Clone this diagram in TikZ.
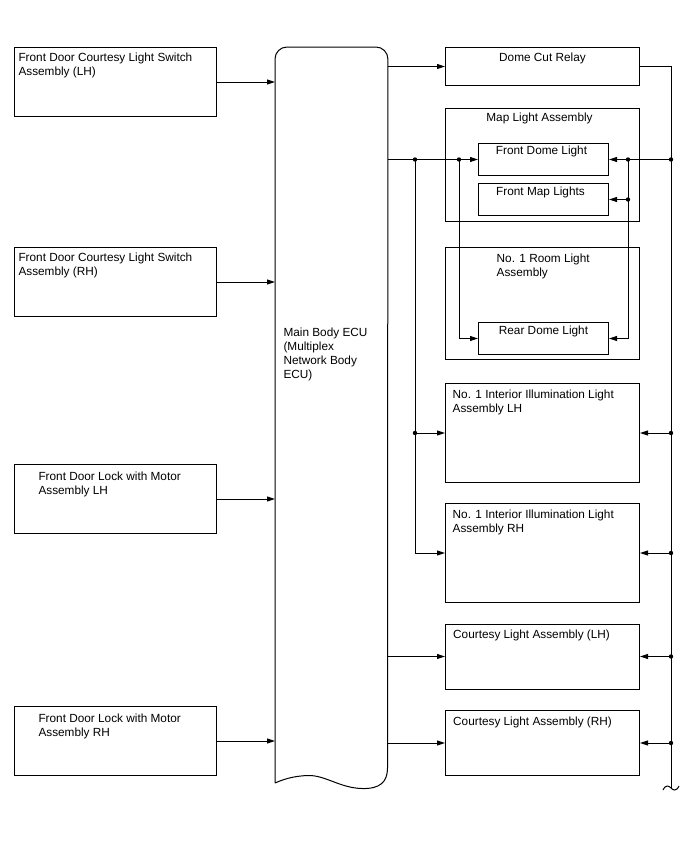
\documentclass[tikz,border=0pt]{standalone}
\usepackage{fontspec}
\setmainfont{Liberation Sans}
\usetikzlibrary{arrows.meta,positioning,calc}
\tikzset{
    partbox/.style={draw, line width=1pt, anchor=north west, inner sep=0pt,
        minimum width=194pt},
    leftbox/.style={partbox, minimum width=202pt, minimum height=69pt},
    lampbox/.style={partbox, minimum width=130pt, minimum height=32pt},
    boxtext/.style={font=\fontsize{11.8}{14}\selectfont, align=left, inner sep=0pt},
    wire/.style={line width=1pt},
    wirearrow/.style={-{Triangle[length=8pt,width=5pt]}, line width=1pt}
}

\begin{document}
\begin{tikzpicture}[x=1pt, y=-1pt]
\useasboundingbox (0,0) rectangle (688,852);

% inputs on the left
\node[leftbox] (swLH) at (14,47) {};
\node[boxtext, below right=6pt and 4.3pt of swLH.north west] (swLHtxt) {Front Door Courtesy Light Switch\\Assembly (LH)};
\node[leftbox] (swRH) at (14,247) {};
\node[boxtext, below right=6pt and 4.3pt of swRH.north west] (swRHtxt) {Front Door Courtesy Light Switch\\Assembly (RH)};
\node[leftbox] (lockLH) at (14,464) {};
\node[boxtext, below right=8pt and 24.3pt of lockLH.north west] (lockLHtxt) {Front Door Lock with Motor\\Assembly LH};
\node[leftbox] (lockRH) at (14,706) {};
\node[boxtext, below right=8pt and 24.3pt of lockRH.north west] (lockRHtxt) {Front Door Lock with Motor\\Assembly RH};

% body ECU
\node[inner sep=0pt, minimum width=112.5pt, minimum height=736pt, anchor=north west] (ecu) at (275,47) {};
\draw[wire] (275,783) [rounded corners=12pt] -- (ecu.north west) -- (ecu.north east)
    [sharp corners] -- (387.5,768) .. controls (387.5,782) and (380,789) .. (362,788.5)
    .. controls (340,788) and (325,775) .. (308,775.5) .. controls (292,776) and (282,780) .. (275,783);
\node[boxtext, anchor=north west] (ecutxt) at (283.3,328) {Main Body ECU\\(Multiplex\\Network Body\\ECU)};

% outputs on the right
\node[partbox, minimum height=38pt] (relay) at (445,47) {};
\node[boxtext, below=6pt of relay.north] (relaytxt) {Dome Cut Relay};
\node[partbox, minimum height=113pt] (maplt) at (445,108) {};
\node[boxtext, below=4.5pt of maplt.north, xshift=-3pt] (mapltxt) {Map Light Assembly};
\node[lampbox] (fdome) at (478,143) {};
\node[boxtext, below=3.2pt of fdome.north, xshift=-2pt] (fdometxt) {Front Dome Light};
\node[lampbox] (fmap) at (478,183) {};
\node[boxtext, below=4pt of fmap.north, xshift=-3pt] (fmaptxt) {Front Map Lights};
\node[partbox, minimum height=112pt] (room) at (445,247) {};
\node[boxtext, below right=7pt and 51.5pt of room.north west] (roomtxt) {No. 1 Room Light\\Assembly};
\node[lampbox] (rdome) at (478,322) {};
\node[boxtext, below=4pt of rdome.north] (rdometxt) {Rear Dome Light};
\node[partbox, minimum height=99pt] (illumLH) at (445,383) {};
\node[boxtext, below right=7pt and 7.5pt of illumLH.north west] (illumLHtxt) {No. 1 Interior Illumination Light\\Assembly LH};
\node[partbox, minimum height=99pt] (illumRH) at (445,503) {};
\node[boxtext, below right=7pt and 7.5pt of illumRH.north west] (illumRHtxt) {No. 1 Interior Illumination Light\\Assembly RH};
\node[partbox, minimum height=65pt] (courLH) at (445,623.5) {};
\node[boxtext, below right=6.5pt and 8pt of courLH.north west] (courLHtxt) {Courtesy Light Assembly (LH)};
\node[partbox, minimum height=65pt] (courRH) at (445,710) {};
\node[boxtext, below right=6.5pt and 8pt of courRH.north west] (courRHtxt) {Courtesy Light Assembly (RH)};

% junctions
\coordinate (jA) at (415,0 |- fdome.west);
\coordinate (jB) at (459,0 |- fdome.west);
\coordinate (jC) at (628,0 |- fdome.east);
\coordinate (jD) at (628,0 |- fmap.east);
\coordinate (busEnd) at (671,788);

% wiring
\foreach \b in {swLH,swRH,lockLH,lockRH}
    \draw[wirearrow] (\b.east) -- (\b.east -| ecu.west);
\foreach \b in {relay,fdome,courLH,courRH}
    \draw[wirearrow] (ecu.east |- \b.west) -- (\b.west);
\draw[wirearrow] (jA) |- (illumRH.west);
\draw[wirearrow] (jA |- illumLH.west) -- (illumLH.west);
\draw[wirearrow] (jB) |- (rdome.west);
\draw[wire] (relay.east) -| (busEnd);
\draw[wire] (663,790) .. controls (666,784) and (669,786) .. (671,788) .. controls (673,790) and (676,792) .. (679,786);
\draw[wirearrow] (busEnd |- fdome.east) -- (fdome.east);
\draw[wirearrow] (jD) -- (fmap.east);
\draw[wirearrow] (jC) |- (rdome.east);
\foreach \b in {illumLH,illumRH,courLH,courRH}
    \draw[wirearrow] (busEnd |- \b.east) -- (\b.east);
\foreach \p in {jA,jB,jC,jD}
    \fill (\p) circle (2.2pt);
\fill (jA |- illumLH.west) circle (2.2pt);
\foreach \b in {fdome,illumLH,illumRH,courLH,courRH}
    \fill (busEnd |- \b.east) circle (2.2pt);
\end{tikzpicture}
\end{document}
